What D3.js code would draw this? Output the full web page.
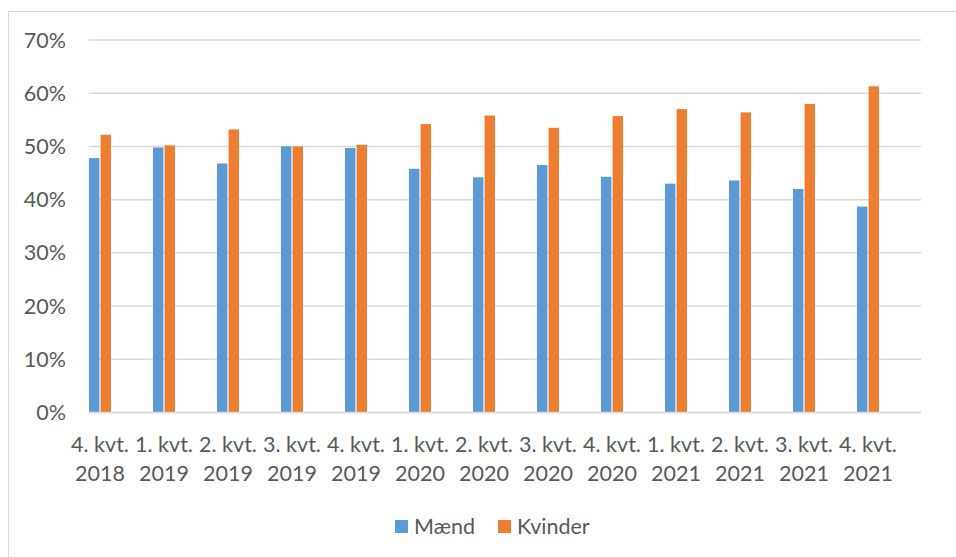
<!DOCTYPE html>
<html>
<head>
<meta charset="utf-8">
<script src="https://cdn.jsdelivr.net/npm/d3@7"></script>
<style>
  html, body { margin: 0; padding: 0; background: #fff; }
  svg { display: block; font-family: Lato, "Open Sans", sans-serif; }
</style>
</head>
<body>
<svg id="chart" width="956" height="557"></svg>
<script>
const categories = [
  ["4. kvt.", "2018"], ["1. kvt.", "2019"], ["2. kvt.", "2019"], ["3. kvt.", "2019"],
  ["4. kvt.", "2019"], ["1. kvt.", "2020"], ["2. kvt.", "2020"], ["3. kvt.", "2020"],
  ["4. kvt.", "2020"], ["1. kvt.", "2021"], ["2. kvt.", "2021"], ["3. kvt.", "2021"],
  ["4. kvt.", "2021"]
];
const maend   = [0.478, 0.498, 0.468, 0.500, 0.497, 0.458, 0.442, 0.465, 0.443, 0.430, 0.436, 0.420, 0.387];
const kvinder = [0.522, 0.502, 0.532, 0.500, 0.503, 0.542, 0.558, 0.535, 0.557, 0.570, 0.564, 0.580, 0.613];
const seriesNames = ["Mænd", "Kvinder"];
const seriesColors = ["#5b9bd5", "#ed7d31"];
const yTicks = [0, 0.1, 0.2, 0.3, 0.4, 0.5, 0.6, 0.7];

const svg = d3.select("#chart");
const textColor = "#595959";
const gridColor = "#d9d9d9";
const fs = 21.5;

// chart border
svg.append("rect").attr("x", 8.5).attr("y", 11.5).attr("width", 1000).attr("height", 1000)
  .attr("fill", "none").attr("stroke", gridColor).attr("stroke-width", 1);

const gridLeft = 89, gridRight = 921;
const y = d3.scaleLinear().domain([0, 0.7]).range([412.5, 40]);
const keys = categories.map((c, i) => i);
const x = d3.scaleBand().domain(keys).range([68, 900]).paddingInner(0).paddingOuter(0);
const inner = d3.scaleBand().domain([0, 1]).range([x.bandwidth() / 2 - 11, x.bandwidth() / 2 + 11]).paddingInner(0.1);

// gridlines
svg.append("g").selectAll("line").data(yTicks).join("line")
  .attr("x1", gridLeft).attr("x2", gridRight)
  .attr("y1", d => y(d)).attr("y2", d => y(d))
  .attr("stroke", gridColor).attr("stroke-width", 1.5);

// y labels
svg.append("g").selectAll("text").data(yTicks).join("text")
  .attr("x", 66).attr("y", d => y(d)).attr("dy", "0.35em")
  .attr("text-anchor", "end").attr("fill", textColor).attr("font-size", fs)
  .text(d => d3.format(".0%")(d));

// bars
const data = [maend, kvinder];
data.forEach((vals, s) => {
  svg.append("g").selectAll("rect").data(vals).join("rect")
    .attr("x", (d, i) => x(i) + inner(s))
    .attr("width", inner.bandwidth())
    .attr("y", d => y(d))
    .attr("height", d => y(0) - y(d))
    .attr("fill", seriesColors[s]);
});

// axis line
svg.append("line").attr("x1", gridLeft).attr("x2", gridRight)
  .attr("y1", y(0)).attr("y2", y(0)).attr("stroke", gridColor).attr("stroke-width", 1.5);

// x labels
const xl = svg.append("g").selectAll("text").data(categories).join("text")
  .attr("text-anchor", "middle").attr("fill", textColor).attr("font-size", fs);
xl.append("tspan").attr("x", (d, i) => x(i) + x.bandwidth() / 2).attr("y", 452).text(d => d[0]);
xl.append("tspan").attr("x", (d, i) => x(i) + x.bandwidth() / 2).attr("y", 481).text(d => d[1]);

// legend
const legendX = [395, 498];
const lg = svg.append("g").selectAll("g").data(seriesNames).join("g")
  .attr("transform", (d, i) => `translate(${legendX[i]},520)`);
lg.append("rect").attr("width", 13).attr("height", 13).attr("fill", (d, i) => seriesColors[i]);
lg.append("text").attr("x", 19).attr("y", 14).attr("fill", textColor).attr("font-size", fs).text(d => d);
</script>
</body>
</html>
